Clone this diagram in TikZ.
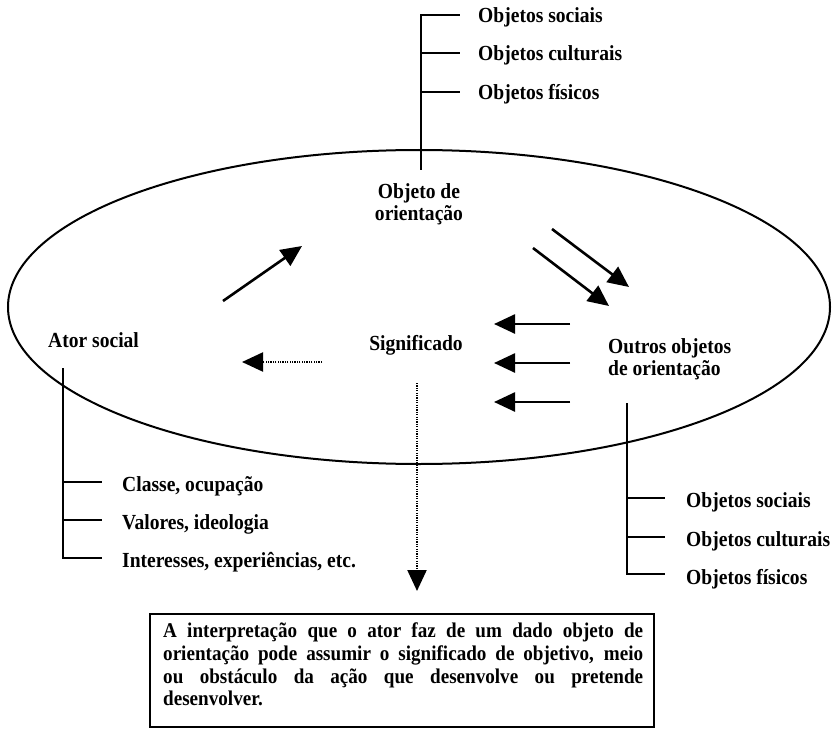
\documentclass[tikz,border=0pt]{standalone}
\usepackage{fontspec}
\setmainfont[FakeStretch=0.91]{Liberation Serif}
\usetikzlibrary{arrows.meta}
\begin{document}
\begin{tikzpicture}[x=1pt,y=-1pt,
  lbl/.style={font=\fontsize{21.5}{24}\selectfont\bfseries, inner sep=0pt, anchor=base west},
  lblc/.style={lbl, anchor=base},
  boxline/.style={font=\fontsize{21}{24}\selectfont\bfseries, inner sep=0pt, anchor=base west},
  branch/.style={line width=2pt},
  solidarr/.style={line width=2.6pt, -{Triangle[length=21pt,width=19pt]}},
  dotarr/.style={line width=2.2pt, dash pattern=on 1.2pt off 1.2pt, -{Triangle[length=21pt,width=19pt]}}]
\useasboundingbox (0,0) rectangle (837,730);

% main ellipse
\draw[line width=2pt] (419,307) ellipse [x radius=411pt, y radius=157pt];

% central labels
\node[lblc] (obj1) at (419,198) {Objeto de};
\node[lblc] (obj2) at (419,220) {orientação};
\node[lbl] (ator) at (48,347) {Ator social};
\node[lblc] (sig) at (416,350) {Significado};
\node[lbl] (out1) at (608,353) {Outros objetos};
\node[lbl] (out2) at (608,375) {de orientação};

% top branch
\node[lbl] (ts) at (478,23) {Objetos sociais};
\node[lbl] (tc) at (478,61) {Objetos culturais};
\node[lbl] (tf) at (478,100) {Objetos físicos};
\coordinate (tTop) at (421,15);
\coordinate (tBot) at (421,170);
\coordinate (tE1) at (460,15);
\coordinate (tE2) at (460,53);
\coordinate (tE3) at (460,92);
\draw[branch] (tBot) -- (tTop) -- (tE1);
\draw[branch] (tTop |- tE2) -- (tE2);
\draw[branch] (tTop |- tE3) -- (tE3);

% bottom-left branch
\node[lbl] (bl1) at (122,491) {Classe, ocupação};
\node[lbl] (bl2) at (122,529) {Valores, ideologia};
\node[lbl] (bl3) at (122,567) {Interesses, experiências, etc.};
\coordinate (lTop) at (63,368);
\coordinate (lBot) at (63,558);
\coordinate (lE1) at (102,482);
\coordinate (lE2) at (102,520);
\coordinate (lE3) at (102,558);
\draw[branch] (lTop) -- (lBot) -- (lE3);
\draw[branch] (lTop |- lE1) -- (lE1);
\draw[branch] (lTop |- lE2) -- (lE2);

% bottom-right branch
\node[lbl] (br1) at (686,507) {Objetos sociais};
\node[lbl] (br2) at (686,546) {Objetos culturais};
\node[lbl] (br3) at (686,584) {Objetos físicos};
\coordinate (rTop) at (627,403);
\coordinate (rBot) at (627,574);
\coordinate (rE1) at (665,498);
\coordinate (rE2) at (665,537);
\coordinate (rE3) at (665,574);
\draw[branch] (rTop) -- (rBot) -- (rE3);
\draw[branch] (rTop |- rE1) -- (rE1);
\draw[branch] (rTop |- rE2) -- (rE2);

% solid arrows
\coordinate (a1s) at (223,301); \coordinate (a1e) at (302,246);
\coordinate (a2s) at (552,229); \coordinate (a2e) at (629,287);
\coordinate (a3s) at (533,248); \coordinate (a3e) at (609,306);
\coordinate (l1s) at (570,324); \coordinate (l1e) at (494,324);
\coordinate (l2s) at (570,363); \coordinate (l2e) at (494,363);
\coordinate (l3s) at (570,402); \coordinate (l3e) at (494,402);
\draw[solidarr] (a1s) -- (a1e);
\draw[solidarr] (a2s) -- (a2e);
\draw[solidarr] (a3s) -- (a3e);
\draw[solidarr] (l1s) -- (l1e);
\draw[solidarr] (l2s) -- (l2e);
\draw[solidarr] (l3s) -- (l3e);

% dotted arrows
\coordinate (d1s) at (322,362); \coordinate (d1e) at (242,362);
\coordinate (d2s) at (417,383); \coordinate (d2e) at (417,591);
\draw[dotarr] (d1s) -- (d1e);
\draw[dotarr] (d2s) -- (d2e);

% bottom box
\node[draw, line width=1.8pt, inner sep=0pt, minimum width=504pt, minimum height=113pt, anchor=north west] (box) at (149,613) {};
\node[boxline] (bx1) at (163,637) {\makebox[480pt][s]{A interpretação que o ator faz de um dado objeto de}};
\node[boxline] (bx2) at (163,660) {\makebox[480pt][s]{orientação pode assumir o significado de objetivo, meio}};
\node[boxline] (bx3) at (163,683) {\makebox[480pt][s]{ou obstáculo da ação que desenvolve ou pretende}};
\node[boxline] (bx4) at (163,705) {desenvolver.};
\end{tikzpicture}
\end{document}
